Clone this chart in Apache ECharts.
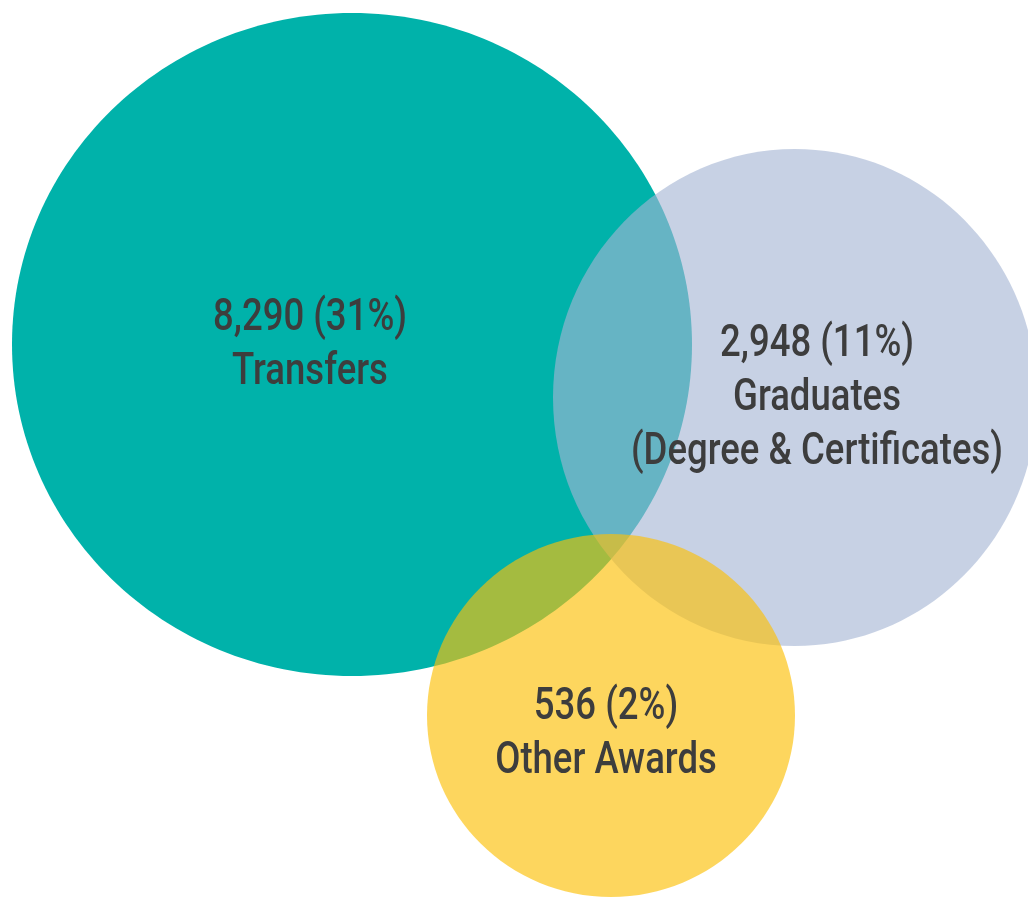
<!DOCTYPE html>
<html>
<head>
<meta charset="utf-8">
<title>Outcomes</title>
<script src="https://cdn.jsdelivr.net/npm/echarts@6/dist/echarts.min.js"></script>
<style>
  html, body { margin: 0; padding: 0; background: #fff; }
  #main { width: 1028px; height: 898px; }
</style>
</head>
<body>
<div id="main"></div>
<script>
// data
const categories = ['Transfers', 'Graduates\n(Degree & Certificates)', 'Other Awards'];
const counts = [8290, 2948, 536];
const shares = [31, 11, 2];
// bubble layout in axis units (x 0..1028, y 0..898)
const centerX = [352, 795, 611];
const centerY = [553.5, 500.5, 182.5];
const radiusX = [340, 242, 184];
const radiusY = [331.5, 248.5, 181.5];

// styles
const fills = ['rgba(0,178,170,1)', 'rgba(165,181,211,0.62)', 'rgba(252,192,8,0.65)'];
const labelOffsets = [[-42, 1], [22, 1], [-5, 19]];

var myChart = echarts.init(document.getElementById('main'));

const seriesData = categories.map(function (c, i) {
    return [centerX[i], centerY[i], radiusX[i], radiusY[i], counts[i], shares[i]];
});

const option = {
    backgroundColor: '#fff',
    animation: false,
    grid: { left: 0, right: 0, top: 0, bottom: 0 },
    xAxis: { type: 'value', min: 0, max: 1028, show: false },
    yAxis: { type: 'value', min: 0, max: 898, show: false },
    series: [
        {
            type: 'custom',
            data: seriesData,
            renderItem: function (params, api) {
                const i = params.dataIndex;
                const c = api.coord([api.value(0), api.value(1)]);
                const s = api.size([api.value(2), api.value(3)]);
                const txt = api.value(4).toLocaleString('en-US') + ' (' + api.value(5) + '%)\n' + categories[i];
                return {
                    type: 'group',
                    children: [
                        {
                            type: 'ellipse',
                            shape: { cx: c[0], cy: c[1], rx: s[0], ry: s[1] },
                            style: { fill: fills[i] }
                        },
                        {
                            type: 'text',
                            z2: 10,
                            x: c[0] + labelOffsets[i][0],
                            y: c[1] + labelOffsets[i][1],
                            scaleX: 0.83,
                            style: {
                                text: txt,
                                fill: '#3d3d3d',
                                fontFamily: 'Roboto, sans-serif',
                                fontWeight: 500,
                                fontSize: 44,
                                lineHeight: 54,
                                align: 'center',
                                verticalAlign: 'middle'
                            }
                        }
                    ]
                };
            }
        }
    ]
};

myChart.setOption(option);
</script>
</body>
</html>
